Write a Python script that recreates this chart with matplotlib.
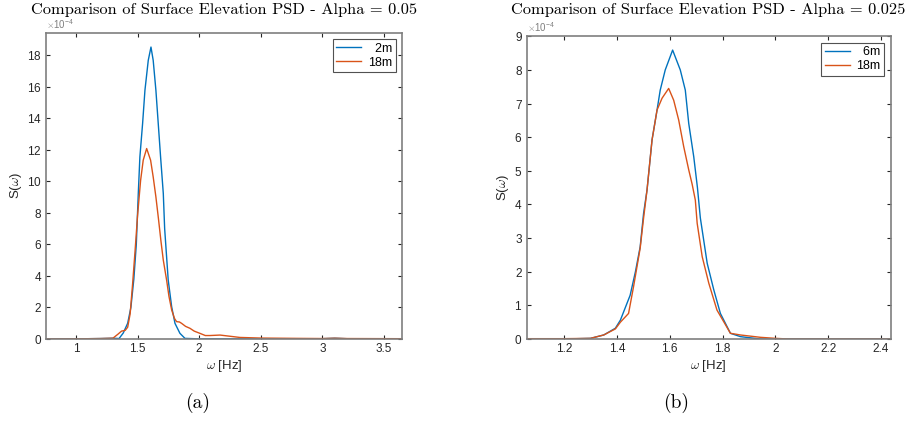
import numpy as np
import matplotlib
matplotlib.use("Agg")
import matplotlib.pyplot as plt
from matplotlib.ticker import FormatStrFormatter, ScalarFormatter


# (a) Alpha = 0.05, values in units of 1e-4
w_a_2m = [0.75, 1.0, 1.2, 1.3, 1.35, 1.384, 1.42, 1.446, 1.47, 1.49, 1.506, 1.519,
          1.541, 1.560, 1.587, 1.609, 1.627, 1.649, 1.668, 1.687, 1.709, 1.72, 1.735,
          1.749, 1.777, 1.804, 1.844, 1.885, 2.0, 2.5, 3.0, 3.1, 3.2, 3.65]
s_a_2m = [0.0, 0.01, 0.03, 0.05, 0.03, 0.38, 1.0, 2.0, 3.8, 6.0, 9.22, 11.54,
          13.65, 15.76, 17.66, 18.5, 17.66, 15.76, 13.65, 11.54, 9.22, 7.0, 5.3,
          3.73, 2.04, 0.99, 0.36, 0.04, 0.01, 0.01, 0.02, 0.05, 0.02, 0.0]

w_a_18m = [0.75, 1.0, 1.2, 1.3, 1.34, 1.37, 1.40, 1.42, 1.44, 1.46, 1.48, 1.50,
           1.511, 1.525, 1.546, 1.574, 1.606, 1.627, 1.649, 1.67, 1.69, 1.709, 1.736,
           1.755, 1.777, 1.80, 1.817, 1.84, 1.858, 1.89, 1.925, 1.96, 2.006, 2.05,
           2.087, 2.17, 2.33, 2.5, 2.8, 3.0, 3.1, 3.2, 3.65]
s_a_18m = [0.0, 0.01, 0.03, 0.05, 0.3, 0.5, 0.55, 0.75, 1.6, 3.5, 5.6, 7.8,
           8.8, 10.06, 11.33, 12.07, 11.33, 10.27, 9.0, 7.6, 6.2, 5.0, 3.73,
           2.7, 1.84, 1.3, 1.1, 1.08, 0.99, 0.8, 0.68, 0.5, 0.36, 0.22,
           0.22, 0.25, 0.1, 0.06, 0.04, 0.03, 0.05, 0.03, 0.02]

# (b) Alpha = 0.025, values in units of 1e-4
w_b_6m = [1.058, 1.2, 1.3, 1.35, 1.394, 1.413, 1.438, 1.45, 1.47, 1.488, 1.501,
          1.514, 1.533, 1.552, 1.564, 1.583, 1.611, 1.640, 1.659, 1.672, 1.691,
          1.705, 1.716, 1.742, 1.767, 1.792, 1.83, 1.868, 1.944, 2.0, 2.2, 2.437]
s_b_6m = [0.0, 0.0, 0.02, 0.12, 0.32, 0.56, 1.06, 1.3, 2.0, 2.74, 3.74,
          4.43, 5.92, 6.81, 7.4, 8.0, 8.59, 8.0, 7.4, 6.41, 5.42,
          4.5, 3.6, 2.25, 1.46, 0.76, 0.17, 0.07, 0.0, 0.0, 0.0, 0.0]

w_b_18m = [1.058, 1.2, 1.3, 1.35, 1.394, 1.413, 1.444, 1.463, 1.488, 1.501, 1.514,
           1.533, 1.552, 1.571, 1.596, 1.615, 1.634, 1.653, 1.672, 1.685, 1.697,
           1.704, 1.723, 1.748, 1.779, 1.83, 1.868, 1.944, 2.0, 2.05, 2.2, 2.437]
s_b_18m = [0.01, 0.01, 0.02, 0.12, 0.3, 0.5, 0.76, 1.56, 2.7, 3.6, 4.43,
           5.92, 6.81, 7.16, 7.45, 7.1, 6.51, 5.72, 5.03, 4.6, 4.13,
           3.44, 2.45, 1.66, 0.86, 0.17, 0.12, 0.05, 0.02, 0.0, 0.0, 0.0]

BLUE = "#0072BD"
ORANGE = "#D95319"
GRAY = "#262626"
SANS = ["Liberation Sans", "DejaVu Sans"]

plt.rcParams["font.family"] = SANS
plt.rcParams["mathtext.fontset"] = "cm"


def style_axes(ax, xlim, ylim, xticks, yticks):
    ax.set_xlim(*xlim)
    ax.set_ylim(*ylim)
    ax.set_xticks(xticks)
    ax.set_yticks(yticks)
    ax.xaxis.set_major_formatter(FormatStrFormatter("%g"))
    fmt = ScalarFormatter(useMathText=True)
    fmt.set_powerlimits((-4, -4))
    ax.yaxis.set_major_formatter(fmt)
    ax.tick_params(direction="in", top=True, right=True, length=3,
                   width=0.8, color=GRAY, labelsize=8.5, labelcolor=GRAY, pad=3)
    for sp in ax.spines.values():
        sp.set_color("#7f7f7f")
        sp.set_linewidth(1.2)
    ax.yaxis.get_offset_text().set_fontsize(7)
    ax.yaxis.get_offset_text().set_color("#7f7f7f")
    ax.set_xlabel(r"$\omega$ [Hz]", fontsize=9.5, color=GRAY, labelpad=2)
    ax.set_ylabel(r"S($\omega$)", fontsize=9.5, color=GRAY, labelpad=2)


fig = plt.figure(figsize=(9.09, 4.30), dpi=100)
ax1 = fig.add_axes([0.0506, 0.2116, 0.3916, 0.712])
ax2 = fig.add_axes([0.5794, 0.2116, 0.4004, 0.704])

ax1.plot(w_a_2m, np.array(s_a_2m) * 1e-4, color=BLUE, lw=1.0, label="\u20072m")
ax1.plot(w_a_18m, np.array(s_a_18m) * 1e-4, color=ORANGE, lw=1.0, label="18m")
style_axes(ax1, (0.757, 3.646), (0, 19.4e-4),
           [1, 1.5, 2, 2.5, 3, 3.5], np.arange(0, 19, 2) * 1e-4)

ax2.plot(w_b_6m, np.array(s_b_6m) * 1e-4, color=BLUE, lw=1.0, label="\u20076m")
ax2.plot(w_b_18m, np.array(s_b_18m) * 1e-4, color=ORANGE, lw=1.0, label="18m")
style_axes(ax2, (1.058, 2.437), (0, 9e-4),
           [1.2, 1.4, 1.6, 1.8, 2.0, 2.2, 2.4], np.arange(0, 10, 1) * 1e-4)

for ax in (ax1, ax2):
    leg = ax.legend(loc="upper right", fontsize=9, frameon=True, fancybox=False,
                    handlelength=2.0, handletextpad=0.5, borderpad=0.3,
                    labelspacing=0.15, borderaxespad=0.5)
    leg.get_frame().set_edgecolor(GRAY)
    leg.get_frame().set_linewidth(0.8)

fig.text(0.2464, 0.968, "Comparison of Surface Elevation PSD - Alpha = 0.05",
         family="cmr10", fontsize=11.8, ha="center", va="baseline")
fig.text(0.7796, 0.968, "Comparison of Surface Elevation PSD - Alpha = 0.025",
         family="cmr10", fontsize=11.8, ha="center", va="baseline")

fig.text(0.217, 0.052, "(a)", family="cmr10", fontsize=14, ha="center")
fig.text(0.744, 0.052, "(b)", family="cmr10", fontsize=14, ha="center")

fig.savefig("out.png", dpi=100)
